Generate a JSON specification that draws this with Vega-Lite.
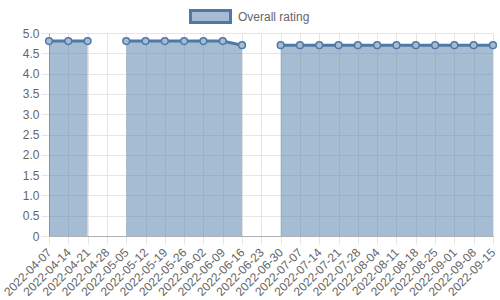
{
  "$schema": "https://vega.github.io/schema/vega-lite/v6.json",
  "width": 444,
  "height": 203,
  "autosize": {"type": "none"},
  "padding": {"left": 49, "top": 33, "right": 7, "bottom": 64},
  "background": "white",
  "config": {
    "view": {"stroke": null},
    "font": "Liberation Sans",
    "axis": {
      "labelFont": "Liberation Sans",
      "labelFontSize": 12,
      "labelColor": "#666666",
      "gridColor": "#e6e6e6",
      "tickColor": "#e6e6e6",
      "domainColor": "#b0b0b0",
      "tickSize": 8,
      "title": null
    }
  },
  "data": {
    "values": [
      {"date": "2022-04-07", "rating": 4.8},
      {"date": "2022-04-14", "rating": 4.8},
      {"date": "2022-04-21", "rating": 4.8},
      {"date": "2022-04-28", "rating": null},
      {"date": "2022-05-05", "rating": 4.8},
      {"date": "2022-05-12", "rating": 4.8},
      {"date": "2022-05-19", "rating": 4.8},
      {"date": "2022-05-26", "rating": 4.8},
      {"date": "2022-06-02", "rating": 4.8},
      {"date": "2022-06-09", "rating": 4.8},
      {"date": "2022-06-16", "rating": 4.7},
      {"date": "2022-06-23", "rating": null},
      {"date": "2022-06-30", "rating": 4.7},
      {"date": "2022-07-07", "rating": 4.7},
      {"date": "2022-07-14", "rating": 4.7},
      {"date": "2022-07-21", "rating": 4.7},
      {"date": "2022-07-28", "rating": 4.7},
      {"date": "2022-08-04", "rating": 4.7},
      {"date": "2022-08-11", "rating": 4.7},
      {"date": "2022-08-18", "rating": 4.7},
      {"date": "2022-08-25", "rating": 4.7},
      {"date": "2022-09-01", "rating": 4.7},
      {"date": "2022-09-08", "rating": 4.7},
      {"date": "2022-09-15", "rating": 4.7}
    ]
  },
  "encoding": {
    "x": {
      "field": "date",
      "type": "ordinal",
      "sort": null,
      "scale": {"type": "point", "padding": 0},
      "axis": {"labelAngle": -45, "labelAlign": "right", "labelBaseline": "middle", "labelPadding": 6, "grid": true, "title": null}
    },
    "y": {
      "field": "rating",
      "type": "quantitative",
      "scale": {"domain": [0, 5], "nice": false, "zero": true},
      "axis": {
        "values": [0, 0.5, 1, 1.5, 2, 2.5, 3, 3.5, 4, 4.5, 5],
        "labelExpr": "datum.value == 0 ? '0' : format(datum.value, '.1f')",
        "labelPadding": 2,
        "title": null
      }
    }
  },
  "layer": [
    {
      "mark": {"type": "area", "opacity": 1, "fillOpacity": 1, "invalid": "break-paths-show-domains"},
      "encoding": {
        "fill": {
          "datum": "Overall rating",
          "type": "nominal",
          "scale": {"range": ["rgba(78,121,167,0.5)"]},
          "legend": {
            "orient": "none",
            "legendX": 140,
            "legendY": -38,
            "title": null,
            "padding": 0,
            "symbolType": "M-1,-0.3H1V0.3H-1Z",
            "symbolSize": 1600,
            "symbolStrokeColor": "#4e79a7",
            "symbolStrokeWidth": 3,
            "symbolOpacity": 1,
            "labelFont": "Liberation Sans",
            "labelFontSize": 12,
            "labelColor": "#666666",
            "labelOffset": 6,
            "encode": {
              "symbols": {
                "update": {
                  "stroke": {"value": "#4e79a7"},
                  "strokeWidth": {"value": 3}
                }
              }
            }
          }
        }
      }
    },
    {
      "mark": {"type": "line", "color": "#4e79a7", "strokeWidth": 3, "invalid": "break-paths-show-domains"},
      "encoding": {}
    },
    {
      "mark": {"type": "point", "filled": true, "fill": "#a6bcd3", "stroke": "#4e79a7", "strokeWidth": 1.5, "size": 45, "opacity": 1},
      "encoding": {}
    }
  ]
}
